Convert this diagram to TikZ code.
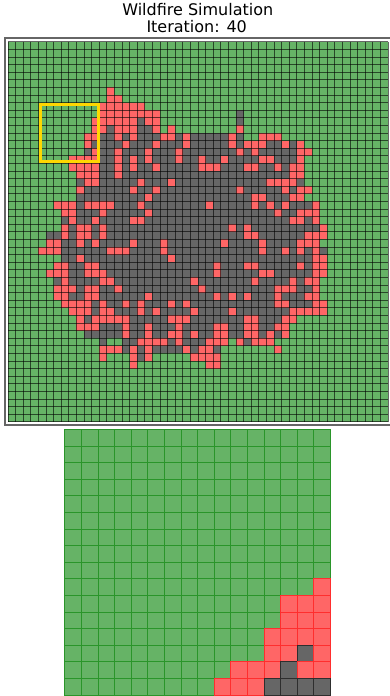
\documentclass[tikz,border=0pt]{standalone}
\usepackage{fontspec}
\setmainfont{DejaVu Sans}
\definecolor{gface}{HTML}{66B366}
\definecolor{gedge}{HTML}{2A952A}
\definecolor{rface}{HTML}{FF6666}
\definecolor{redge}{HTML}{FF2E2E}
\definecolor{bface}{HTML}{666666}
\definecolor{bedge}{HTML}{2E2E2E}
\definecolor{boxyellow}{HTML}{FFD700}
\makeatletter
\newcount\cellcol
\newcommand\paintrow[6]{%
  \cellcol=0\relax
  \@tfor\cellch:=#6\do{%
    \if |\cellch\relax\else
      \if R\cellch\relax \path[#5R] ({#1+#3*\the\cellcol},{#2+#3*#4}) rectangle ++(#3,#3);\fi
      \if B\cellch\relax \path[#5B] ({#1+#3*\the\cellcol},{#2+#3*#4}) rectangle ++(#3,#3);\fi
      \if .\cellch\relax \path[#5G] ({#1+#3*\the\cellcol},{#2+#3*#4}) rectangle ++(#3,#3);\fi
      \advance\cellcol by 1\relax
    \fi
  }%
}
\makeatother
\tikzset{
  topR/.style={fill=rface},
  topB/.style={fill=bface},
  topG/.style={},
  botR/.style={fill=rface,draw=redge,line width=1.0},
  botB/.style={fill=bface,draw=bedge,line width=1.0},
  botG/.style={fill=gface,draw=gedge,line width=1.0},
  topgrid/.style={draw=black,draw opacity=0.6,line width=0.8},
  titletext/.style={anchor=base,inner sep=0pt,font=\fontsize{16}{19}\selectfont},
}
\newcommand\toprow[2]{\paintrow{8}{41.7}{7.6}{#1}{top}{#2}}
\newcommand\botrow[2]{\paintrow{64.8}{429.4}{16.6}{#1}{bot}{#2}}
\begin{document}
\begin{tikzpicture}[x=1pt,y=-1pt]
\useasboundingbox (0,0) rectangle (389,696);
% title
\node[titletext] (t1) at (197.8,15.2) {Wildfire Simulation};
\node[titletext] (t2) at (196.7,32.8) {Iteration: 40};
% frame
\draw[black!60,line width=1.6] (4.7,37.7) rectangle (392,424.7);
% top grid background
\fill[gface] (8,41.7) rectangle (388,421.7);
\toprow{6}{..........|...R}
\toprow{7}{..........|...RR}
\toprow{8}{..........|..RRRRRR}
\toprow{9}{..........|..RRRRRRRR|..........|B}
\toprow{10}{..........|.RRRRRRBRR|..........|B}
\toprow{11}{..........|.RRBRRRBBR|.R........|R}
\toprow{12}{..........|RRBBRBRBBB|RRBRBBBBBR|B..RRR}
\toprow{13}{..........|RBBBBRBBBR|BBBRBBBBBR|BRRRBBRBR}
\toprow{14}{..........|BRBBRBBBRB|BBRBBBBBBB|RBRBBBBBRR}
\toprow{15}{........RR|RRBBRBRBRB|BBRBBRBBRB|BBBRRBBBR}
\toprow{16}{........RR|RRBBRBRBBR|BBBBBRRRBB|BRRBBRBRR}
\toprow{17}{.........R|RRBBRBBBBB|BBBBBBBBBB|BBBBBBBRR}
\toprow{18}{.........B|RRBBBBBRBB|BRBBBBBBBB|BBBBRRRRB}
\toprow{19}{.........R|BBBBBBRBBR|BBBBBBBBBB|RBBBBBRBRR}
\toprow{20}{.........B|BBBBBBBBRB|BBBBBBBBBB|BBRRBBBRR}
\toprow{21}{......RRRB|RRRRBBBRBB|BBBBBBRBBB|BBRBRBRBBB|R}
\toprow{22}{.......RRB|BBRBBBBBRB|BBBBBBBBBB|BBBBBRBBRR|R}
\toprow{23}{.......BRB|BRBBBBRRBB|BBBBBBBBBB|BBBBBBBRRB|R}
\toprow{24}{.......RBR|RBRBBBBBBB|BBBBBBBBBR|BRBBBBBBBB|BR}
\toprow{25}{.....BBRBR|RBRBBBBBBB|BBBBBBBBBB|BRRBBBBBBR|RR}
\toprow{26}{.....RRBBR|BRBBBBRBBB|RBBBBBBBRB|BBBRBBBBRR|R}
\toprow{27}{....RRRBBB|BBBRRRBBBB|RBBBBBBBBB|BBBRBBRBRB|RB}
\toprow{28}{.......BBR|BBBBBBBBBB|BRBBBBBBBB|BBBBBBBBBB|RR}
\toprow{29}{......RRBB|RRBBBBBBBB|BBBBBBBRBB|BRRBBBBBRB|RR}
\toprow{30}{.....RRRBB|RRRBBBBBBB|BBBBBBBRBB|BBBRRBBBBB|RR}
\toprow{31}{......BRBB|BBRRBBBBBB|BBBBRBBBBB|BBRBBBBRBR|R}
\toprow{32}{......RRRB|RRBBRBBBBB|BBBBBRBBBB|BBBBBRRRBB|R}
\toprow{33}{......RRBB|RRBBBBBBRB|BBBBBBBRBR|BRBBBRBBBR|R}
\toprow{34}{.......RRR|RBRBBRBRBB|BRBRBBBBBB|BBBBBRRBBB|RR}
\toprow{35}{........RR|RBRRBBBRBR|BBBBRBBBBR|BBBBBBBRRR|RR}
\toprow{36}{.........R|BRRRRRBBBB|BRRRBBBBBB|BRRBBBRR}
\toprow{37}{.........R|RRBBBRBBRB|BBRBBBBRRB|BRRBBRR}
\toprow{38}{..........|BBBBBRBBRB|BRRBRBBRRB|BRRBRBR}
\toprow{39}{..........|..B..BBRRR|RBRBBBRRR.|RBRRR}
\toprow{40}{..........|..RRRBRBRB|BBBRBRRB..|.....R}
\toprow{41}{..........|..R...RBR.|....RRRR}
\toprow{42}{..........|......R...|......RR}
% top grid lines
\foreach \k in {0,...,50}{
  \draw[topgrid] ({8+7.6*\k},41.7) -- ({8+7.6*\k},421.7);
  \draw[topgrid] (8,{41.7+7.6*\k}) -- (388,{41.7+7.6*\k});
}
% zoom window
\draw[boxyellow,line width=3] (40,104.3) rectangle (98.3,161.7);
% zoomed grid
\botrow{0}{..........|......}
\botrow{1}{..........|......}
\botrow{2}{..........|......}
\botrow{3}{..........|......}
\botrow{4}{..........|......}
\botrow{5}{..........|......}
\botrow{6}{..........|......}
\botrow{7}{..........|......}
\botrow{8}{..........|......}
\botrow{9}{..........|.....R}
\botrow{10}{..........|...RRR}
\botrow{11}{..........|...RRR}
\botrow{12}{..........|..RRRR}
\botrow{13}{..........|..RRBR}
\botrow{14}{..........|RRRBRR}
\botrow{15}{.........R|RRBBBB}
\end{tikzpicture}
\end{document}
